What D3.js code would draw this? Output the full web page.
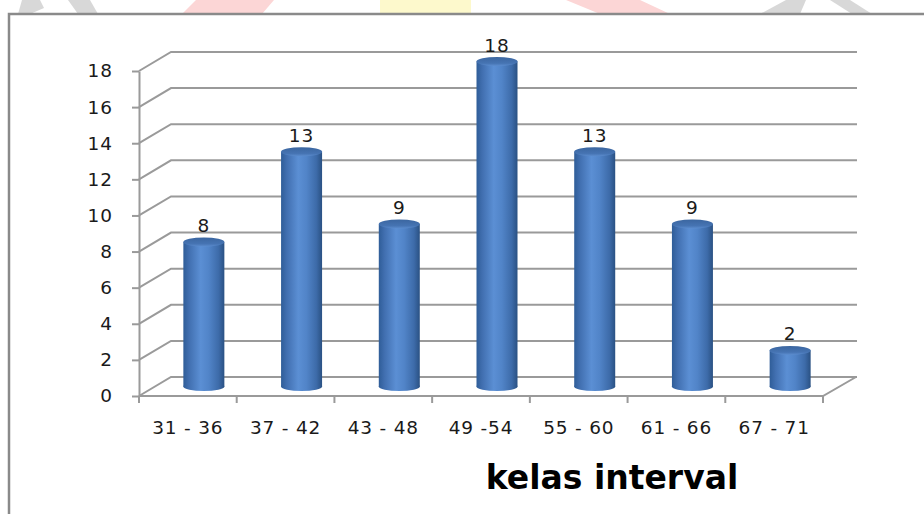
<!DOCTYPE html>
<html lang="id">
<head>
<meta charset="utf-8">
<title>kelas interval</title>
<script src="https://d3js.org/d3.v7.min.js"></script>
<style>
  html, body { margin: 0; padding: 0; background: #fff; }
  svg { display: block; }
  text { font-family: "DejaVu Sans", Verdana, sans-serif; fill: #1a1a1a; }
</style>
</head>
<body>
<svg width="924" height="514"></svg>
<script>
// data
var categories = ["31 - 36", "37 - 42", "43 - 48", "49 -54", "55 - 60", "61 - 66", "67 - 71"];
var frequencies = [8, 13, 9, 18, 13, 9, 2];
var yTicks = [0, 2, 4, 6, 8, 10, 12, 14, 16, 18];
var xTitle = "kelas interval";

var svg = d3.select("svg");

// faint watermark pieces peeking above the frame
var marks = [
    {pts: [[22,0],[40,0],[44,8],[30,14],[18,14]], c: "#d8d8d8"},
    {pts: [[68,0],[90,0],[98,14],[78,14]], c: "#d8d8d8"},
    {pts: [[196,0],[274,0],[262,14],[182,14]], c: "#fcd6d6"},
    {pts: [[380,0],[471,0],[471,14],[380,14]], c: "#fdf9cc"},
    {pts: [[566,0],[640,0],[670,14],[600,14]], c: "#fcd6d6"},
    {pts: [[786,0],[806,0],[800,14],[760,14]], c: "#d8d8d8"},
    {pts: [[830,0],[850,0],[872,14],[852,14]], c: "#d8d8d8"}
];
svg.selectAll("polygon.wm")
    .data(marks)
    .enter()
    .append("polygon")
    .attr("class", "wm")
    .attr("points", function(d){ return d.pts.map(function(p){ return p.join(","); }).join(" "); })
    .attr("fill", function(d){ return d.c; });

// chart frame
svg.append("rect")
    .attr("x", 9).attr("y", 14)
    .attr("width", 930).attr("height", 520)
    .attr("fill", "#fff")
    .attr("stroke", "#8a8a8a")
    .attr("stroke-width", 2.5);

// gradients for the cylinders
var defs = svg.append("defs");
var body = defs.append("linearGradient").attr("id", "cyl").attr("x1", "0").attr("x2", "1").attr("y1", "0").attr("y2", "0");
[["0%", "#2f5d98"], ["14%", "#416fb0"], ["42%", "#5b8fd4"], ["62%", "#5184c8"], ["86%", "#3d6ba9"], ["100%", "#2a5183"]]
    .forEach(function(s){ body.append("stop").attr("offset", s[0]).attr("stop-color", s[1]); });
var cap = defs.append("linearGradient").attr("id", "cap").attr("x1", "0").attr("x2", "0").attr("y1", "0").attr("y2", "1");
[["0%", "#3b66a0"], ["70%", "#4674b3"], ["100%", "#5c8dcf"]]
    .forEach(function(s){ cap.append("stop").attr("offset", s[0]).attr("stop-color", s[1]); });

// scales
var x = d3.scaleBand().domain(categories).range([139, 823]).padding(0);
var y = d3.scaleLinear().domain([0, 18]).range([396, 71]);
var dx = 32, dy = -19;          // depth of the 3d box
var backRight = 857;

var grid = svg.append("g")
    .attr("fill", "none")
    .attr("stroke", "#9a9a9a")
    .attr("stroke-width", 2);

// back wall gridlines (side wall diagonal + back horizontal)
grid.selectAll("path.grid")
    .data(yTicks)
    .enter()
    .append("path")
    .attr("class", "grid")
    .attr("d", function(d){
        var p = d3.path();
        p.moveTo(139, y(d));
        p.lineTo(139 + dx, y(d) + dy);
        p.lineTo(backRight, y(d) + dy);
        return p.toString();
    });

// floor front edge + right diagonal
grid.append("path")
    .attr("d", function(){
        var p = d3.path();
        p.moveTo(139, y(0));
        p.lineTo(823, y(0));
        p.lineTo(823 + dx + 1, y(0) + dy);
        return p.toString();
    });

// category boundary ticks
grid.selectAll("line.xt")
    .data(categories.concat(["end"]))
    .enter()
    .append("line")
    .attr("class", "xt")
    .attr("x1", function(d, i){ return i < categories.length ? x(d) : x.range()[1]; })
    .attr("x2", function(d, i){ return i < categories.length ? x(d) : x.range()[1]; })
    .attr("y1", y(0))
    .attr("y2", y(0) + 7);

// y axis
var yAxis = svg.append("g")
    .attr("transform", "translate(139,0)")
    .call(d3.axisLeft(y).tickValues(yTicks).tickSize(7).tickSizeOuter(0).tickPadding(19));
yAxis.select(".domain").attr("stroke", "#9a9a9a").attr("stroke-width", 2);
yAxis.selectAll(".tick line").attr("stroke", "#9a9a9a").attr("stroke-width", 2);
yAxis.selectAll(".tick text")
    .attr("font-size", 18.5)
    .attr("letter-spacing", 1)
    .attr("font-family", "DejaVu Sans, sans-serif")
    .attr("fill", "#1a1a1a");

// x axis labels
var xAxis = svg.append("g")
    .attr("transform", "translate(0," + y(0) + ")")
    .call(d3.axisBottom(x).tickSize(0).tickPadding(25));
xAxis.select(".domain").remove();
xAxis.selectAll(".tick text")
    .attr("font-size", 18.5)
    .attr("letter-spacing", 0.8)
    .attr("font-family", "DejaVu Sans, sans-serif")
    .attr("fill", "#1a1a1a");

// cylinders
var barW = 41, ry = 4.5;
var bars = svg.selectAll("g.bar")
    .data(frequencies)
    .enter()
    .append("g")
    .attr("class", "bar")
    .attr("transform", function(d, i){
        return "translate(" + (x(categories[i]) + x.bandwidth() / 2 + dx / 2) + "," + (dy / 2) + ")";
    });

bars.append("ellipse")
    .attr("cx", 0).attr("cy", y(0))
    .attr("rx", barW / 2).attr("ry", ry)
    .attr("fill", "url(#cyl)");
bars.append("rect")
    .attr("x", -barW / 2)
    .attr("y", function(d){ return y(d); })
    .attr("width", barW)
    .attr("height", function(d){ return y(0) - y(d); })
    .attr("fill", "url(#cyl)");
bars.append("ellipse")
    .attr("cx", 0).attr("cy", function(d){ return y(d); })
    .attr("rx", barW / 2).attr("ry", ry)
    .attr("fill", "url(#cap)");

// value labels
bars.append("text")
    .attr("x", 0)
    .attr("y", function(d){ return y(d) - 10; })
    .attr("text-anchor", "middle")
    .attr("font-size", 18.5)
    .attr("letter-spacing", 1)
    .text(function(d){ return d; });

// axis title
svg.append("text")
    .attr("x", 612)
    .attr("y", 489)
    .attr("text-anchor", "middle")
    .attr("font-size", 33)
    .attr("font-weight", "bold")
    .style("fill", "#000")
    .text(xTitle);
</script>
</body>
</html>
